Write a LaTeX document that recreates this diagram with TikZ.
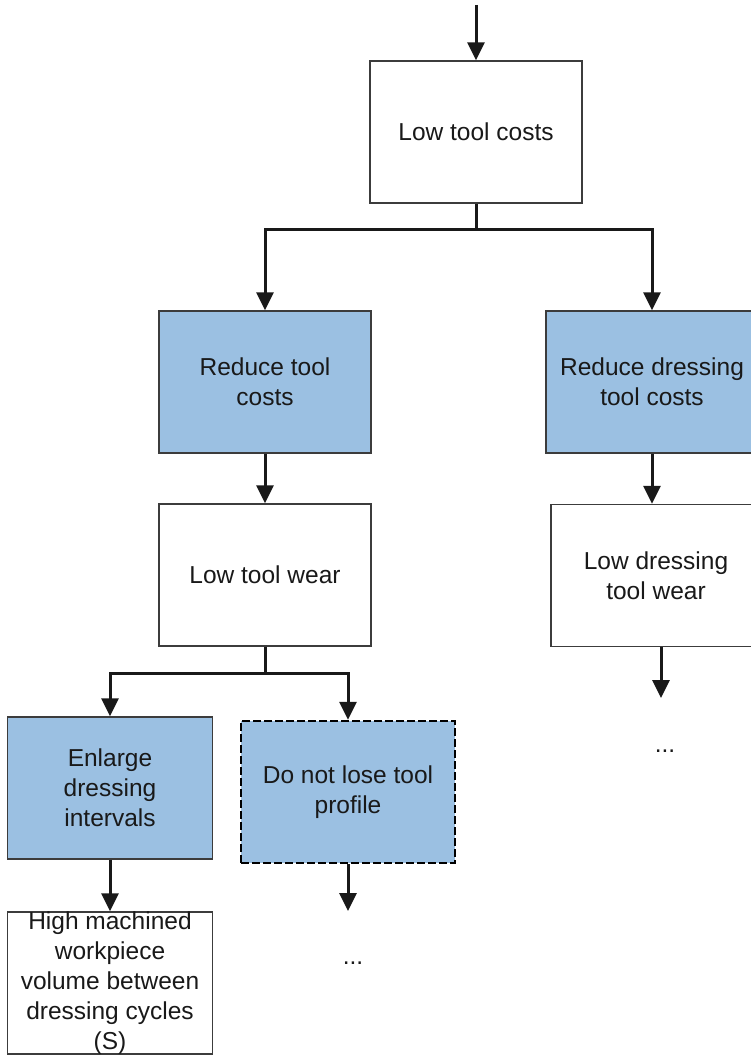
\documentclass[tikz,border=0pt]{standalone}
\usepackage{fontspec}
\setmainfont{Liberation Sans}
\usetikzlibrary{arrows.meta}
\definecolor{goalblue}{RGB}{155,192,226}
\definecolor{boxline}{RGB}{60,60,60}
\definecolor{ink}{RGB}{25,25,25}
\begin{document}
\begin{tikzpicture}[x=1pt,y=-1pt,
  font=\fontsize{24.5}{30}\selectfont,
  box/.style={draw=boxline, line width=1.4pt, fill=white, text=ink,
    minimum width=212pt, minimum height=142pt, inner sep=2pt, align=center},
  bluebox/.style={box, fill=goalblue},
  dashbox/.style={bluebox, draw=black, line width=2.4pt, dash pattern=on 8pt off 3pt},
  flow/.style={draw=ink, line width=3pt,
    -{Triangle[width=17pt,length=18pt]}},
  link/.style={draw=ink, line width=3pt},
  more/.style={text=ink, anchor=base}]
\useasboundingbox (0,0) rectangle (751,1056);
\clip (0,0) rectangle (751,1056);

% goal boxes
\node[box] (top) at (476,132) {Low tool costs};
\node[bluebox] (rtc) at (265,382) {Reduce tool\\costs};
\node[box] (ltw) at (265,575) {Low tool wear};
\node[bluebox] (rdtc) at (652,382) {Reduce dressing\\tool costs};
\node[box, minimum width=210pt] (ldtw) at (656,575.5) {Low dressing\\tool wear};
\node[bluebox, minimum width=205pt] (edi) at (110,788) {Enlarge\\dressing\\intervals};
\node[dashbox, minimum width=214pt] (dnl) at (348,792) {Do not lose tool\\profile};
\node[box, minimum width=205pt] (hmw) at (110,983) {};
\node[text=ink, align=center, inner sep=0pt] (hmwt) at (hmw.center)
  {High machined\\workpiece\\volume between\\dressing cycles\\(S)};

% continuation marks
\node[more] (dots1) at (665,752) {...};
\node[more] (dots2) at (353,964) {...};

% free ends of the open arrows
\coordinate (in) at (476,5);
\coordinate (ldtwend) at (661,698);
\coordinate (dnlend) at (348,911);

% connectors
\draw[flow] (in) -- (top.north);
\draw[link] (top.south) -- (top.south |- 0,230) coordinate (split1);
\draw[flow] (split1) -| (rtc.north);
\draw[flow] (split1) -| (rdtc.north);
\draw[flow] (rtc.south) -- (ltw.north);
\draw[flow] (rdtc.south) -- (rdtc.south |- ldtw.north);
\draw[flow] (ldtwend |- ldtw.south) -- (ldtwend);
\draw[link] (ltw.south) -- (ltw.south |- 0,673) coordinate (split2);
\draw[flow] (split2) -| (edi.north);
\draw[flow] (split2) -| (dnl.north);
\draw[flow] (edi.south) -- (hmw.north);
\draw[flow] (dnl.south) -- (dnlend);
\end{tikzpicture}
\end{document}
